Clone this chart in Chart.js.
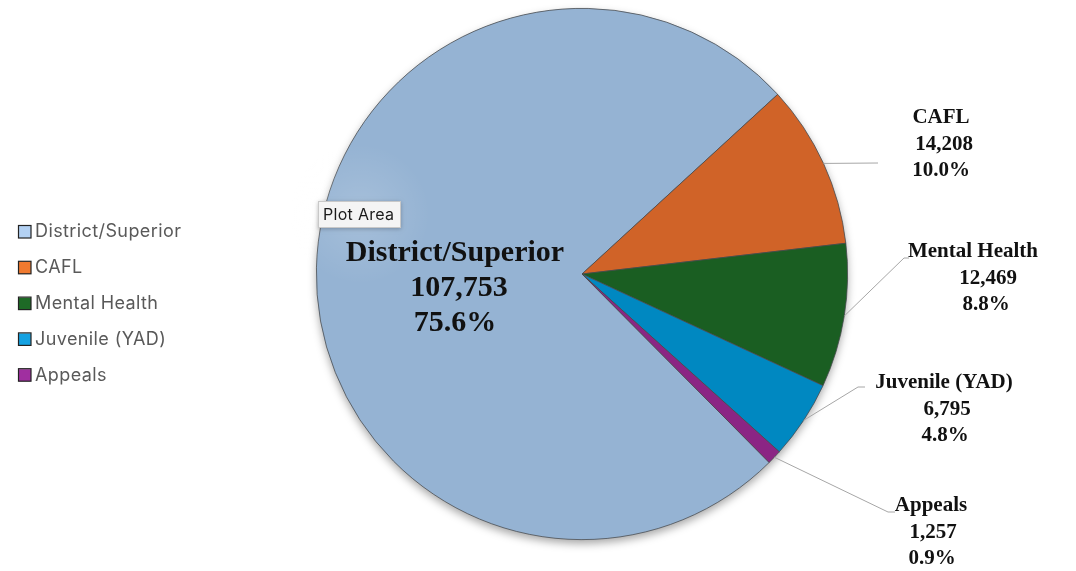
<!DOCTYPE html>
<html>
<head>
<meta charset="utf-8">
<title>Caseload</title>
<script src="https://cdn.jsdelivr.net/npm/chart.js@4/dist/chart.umd.min.js"></script>
<style>
	html, body { margin: 0; padding: 0; background: #ffffff; }
	#chart-wrap { position: relative; width: 1076px; height: 571px; }
</style>
</head>
<body>
<div id="chart-wrap"><canvas id="court-chart"></canvas></div>
<script>
// 데이터
var courtLabels = ['District/Superior', 'CAFL', 'Mental Health', 'Juvenile (YAD)', 'Appeals'];
var courtValues = [107753, 14208, 12469, 6795, 1257];

// 색상 (파이 / 범례)
var sliceColors = ['#95b3d3', '#d06328', '#1a5e22', '#0088c1', '#8b2584'];
var legendColors = ['#b3d1f3', '#f07a30', '#1e6a26', '#15a2e2', '#a02fa0'];

// 라벨 위치 (캔버스 좌표)
var labelLayout = [
	{ inside : true, x : 456, y : 253, lineX : [455, 459, 455] },
	{ x : 943, y : 118, lineX : [941, 944, 941], line : [[878, 163]] },
	{ x : 980, y : 252, lineX : [973, 988, 986], line : [[904, 258], [909, 258]] },
	{ x : 945, y : 383, lineX : [944, 947, 945], line : [[858, 387], [865, 387]] },
	{ x : 932, y : 506, lineX : [931, 933, 932], line : [[888, 512], [895, 512]] }
];

var CourtChart;

/**
 * 천단위 콤마
 */
function formatNumber(v) {
	return v.toLocaleString('en-US');
}

/**
 * 파이 그림자
 */
var shadowPlugin = {
	id : 'pieShadow',
	beforeDatasetsDraw : function(chart) {
		var arc = chart.getDatasetMeta(0).data[0];
		if (!arc) return;
		var ctx = chart.ctx;
		ctx.save();
		ctx.shadowColor = 'rgba(0, 0, 0, 0.35)';
		ctx.shadowBlur = 9;
		ctx.shadowOffsetY = 4;
		ctx.fillStyle = sliceColors[0];
		ctx.beginPath();
		ctx.arc(arc.x, arc.y, arc.outerRadius, 0, Math.PI * 2);
		ctx.fill();
		ctx.restore();
	}
};

/**
 * 'Plot Area' 툴팁 박스
 */
var hintPlugin = {
	id : 'plotAreaHint',
	afterDatasetsDraw : function(chart) {
		var ctx = chart.ctx;
		ctx.save();
		var g = ctx.createRadialGradient(360, 214, 10, 360, 214, 70);
		g.addColorStop(0, 'rgba(255, 255, 255, 0.14)');
		g.addColorStop(1, 'rgba(255, 255, 255, 0)');
		ctx.fillStyle = g;
		ctx.fillRect(280, 140, 160, 150);

		ctx.shadowColor = 'rgba(0, 0, 0, 0.25)';
		ctx.shadowBlur = 4;
		ctx.shadowOffsetY = 1;
		ctx.fillStyle = '#f4f4f4';
		ctx.fillRect(318, 201, 83, 27);
		ctx.shadowColor = 'rgba(0, 0, 0, 0)';
		ctx.strokeStyle = '#c8c8c8';
		ctx.lineWidth = 1;
		ctx.strokeRect(318.5, 201.5, 82, 26);
		ctx.fillStyle = '#1a1a1a';
		ctx.font = '16px Inter, "Liberation Sans", sans-serif';
		ctx.letterSpacing = '0.3px';
		ctx.textBaseline = 'middle';
		ctx.textAlign = 'left';
		ctx.fillText('Plot Area', 323, 215);
		ctx.restore();
	}
};

/**
 * 데이터 라벨 + 지시선
 */
var labelPlugin = {
	id : 'sliceLabels',
	afterDatasetsDraw : function(chart) {
		var ctx = chart.ctx;
		var meta = chart.getDatasetMeta(0);
		var values = chart.data.datasets[0].data;
		var total = values.reduce(function(a, b) { return a + b; }, 0);

		ctx.save();
		meta.data.forEach(function(arc, i) {
			var lay = labelLayout[i];
			var lines = [
				chart.data.labels[i],
				formatNumber(values[i]),
				(values[i] / total * 100).toFixed(1) + '%'
			];
			// 지시선
			if (lay.line) {
				var mid = (arc.startAngle + arc.endAngle) / 2;
				var sx = arc.x + Math.cos(mid) * arc.outerRadius;
				var sy = arc.y + Math.sin(mid) * arc.outerRadius;
				ctx.strokeStyle = '#a6a6a6';
				ctx.lineWidth = 1;
				ctx.beginPath();
				ctx.moveTo(sx, sy);
				lay.line.forEach(function(p) { ctx.lineTo(p[0], p[1]); });
				ctx.stroke();
			}
			var size = lay.inside ? 30 : 21;
			var gap = lay.inside ? 35 : 26.5;
			ctx.fillStyle = '#111111';
			ctx.textAlign = 'center';
			ctx.textBaseline = 'middle';
			ctx.font = 'bold ' + size + 'px "Liberation Serif", "DejaVu Serif", serif';
			lines.forEach(function(t, k) {
				ctx.fillText(t, lay.lineX[k], lay.y + k * gap);
			});
		});
		ctx.restore();
	}
};

/**
 * 범례 (왼쪽)
 */
var legendPlugin = {
	id : 'sideLegend',
	afterDraw : function(chart) {
		var ctx = chart.ctx;
		ctx.save();
		ctx.font = '18px Inter, "Liberation Sans", sans-serif';
		ctx.letterSpacing = '0.4px';
		ctx.textBaseline = 'middle';
		ctx.textAlign = 'left';
		chart.data.labels.forEach(function(label, i) {
			var y = 232 + i * 35.8;
			ctx.fillStyle = legendColors[i];
			ctx.fillRect(19, y - 6, 12, 12);
			ctx.strokeStyle = '#222222';
			ctx.lineWidth = 1.2;
			ctx.strokeRect(18.5, y - 6.5, 12.5, 12.5);
			ctx.fillStyle = '#595959';
			ctx.fillText(label, 35, y);
		});
		ctx.restore();
	}
};

$ready(function() {
	createChart();
});

function $ready(fn) {
	if (document.readyState !== 'loading') fn();
	else document.addEventListener('DOMContentLoaded', fn);
}

/**
 * 차트 생성
 */
function createChart() {
	var canvas = document.getElementById('court-chart');
	CourtChart = new Chart(canvas, {
		type : 'pie',
		data : {
			labels : courtLabels,
			datasets : [ {
				data : courtValues,
				backgroundColor : sliceColors,
				borderColor : '#4a4a4a',
				borderWidth : 0.75,
			} ]
		},
		options : {
			responsive : true,
			maintainAspectRatio : false,
			animation : false,
			rotation : 135.2,
			layout : {
				padding : { left : 314, right : 226, top : 8, bottom : 31 }
			},
			plugins : {
				legend : { display : false },
				tooltip : { enabled : false },
			}
		},
		plugins : [ shadowPlugin, hintPlugin, labelPlugin, legendPlugin ]
	});
}
</script>
</body>
</html>
